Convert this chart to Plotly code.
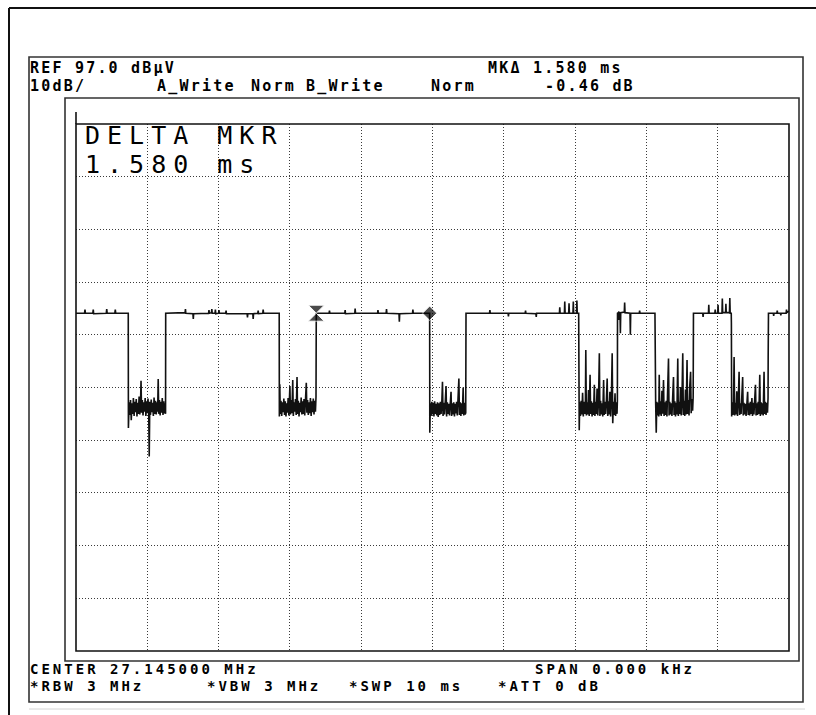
import plotly.graph_objects as go

# ---------------- data: sweep time (ms) / level (dBuV) ----------------
ref_level = 97.0
db_per_div = 10.0
sweep_ms = 10.0

high_0 = [(0.000, 61.1), (0.120, 61.1), (0.126, 61.8), (0.132, 61.1), (0.236, 61.1), (0.242, 61.8),
          (0.248, 61.0), (0.425, 61.1), (0.431, 61.9), (0.437, 61.1), (0.545, 61.1), (0.551, 61.8),
          (0.557, 61.1), (0.733, 61.1)]
low_0 = [(0.735, 39.3), (0.745, 44.2), (0.755, 41.8), (0.765, 44.6), (0.775, 40.8), (0.785, 44.0),
         (0.795, 42.0), (0.805, 45.0), (0.815, 41.6), (0.825, 44.3), (0.835, 42.3), (0.845, 44.8),
         (0.855, 41.5), (0.865, 44.1), (0.875, 42.0), (0.885, 45.3), (0.895, 41.9), (0.905, 44.0),
         (0.912, 48.3), (0.920, 42.2), (0.930, 44.6), (0.940, 41.7), (0.950, 44.2), (0.960, 42.4),
         (0.970, 45.0), (0.980, 41.6), (0.990, 44.4), (1.000, 42.1), (1.010, 44.9), (1.020, 42.0),
         (1.027, 33.9), (1.035, 44.3), (1.045, 41.8), (1.055, 44.7), (1.065, 42.3), (1.075, 44.1),
         (1.085, 41.6), (1.095, 45.1), (1.105, 42.0), (1.115, 44.5), (1.125, 41.9), (1.135, 44.2),
         (1.145, 42.4), (1.153, 48.6), (1.160, 42.0), (1.170, 44.6), (1.180, 41.7), (1.190, 44.3),
         (1.200, 42.2), (1.210, 45.0), (1.220, 41.8), (1.230, 44.4), (1.240, 42.1), (1.250, 44.0),
         (1.256, 42.0)]
high_1 = [(1.258, 61.1), (1.530, 61.2), (1.535, 61.9), (1.540, 61.1), (1.640, 61.0), (1.645, 60.0),
          (1.650, 61.0), (1.860, 61.1), (1.865, 61.7), (1.870, 61.1), (1.900, 61.2), (1.905, 61.9),
          (1.910, 61.1), (1.950, 61.1), (1.955, 61.8), (1.960, 61.0), (2.000, 61.1), (2.005, 61.7),
          (2.010, 61.1), (2.100, 61.1), (2.105, 61.6), (2.110, 61.0), (2.400, 61.0), (2.405, 60.3),
          (2.410, 61.0), (2.480, 61.0), (2.485, 60.0), (2.490, 61.0), (2.550, 61.1), (2.555, 61.6),
          (2.560, 61.0), (2.620, 61.1), (2.625, 61.8), (2.630, 61.1), (2.850, 61.1)]
low_1 = [(2.852, 41.5), (2.858, 47.6), (2.865, 42.0), (2.875, 44.5), (2.885, 41.6), (2.895, 44.2),
         (2.905, 42.3), (2.915, 44.9), (2.925, 41.8), (2.935, 44.4), (2.945, 41.5), (2.955, 44.0),
         (2.965, 42.2), (2.975, 45.0), (2.985, 41.7), (2.995, 44.3), (3.000, 47.3), (3.008, 41.9),
         (3.018, 44.6), (3.028, 42.1), (3.040, 48.4), (3.048, 41.6), (3.058, 44.2), (3.068, 42.4),
         (3.078, 44.8), (3.088, 41.8), (3.100, 49.0), (3.108, 42.0), (3.118, 44.5), (3.128, 41.5),
         (3.138, 44.1), (3.148, 42.3), (3.158, 45.1), (3.168, 41.9), (3.178, 44.4), (3.188, 42.0),
         (3.198, 44.8), (3.208, 41.7), (3.218, 44.3), (3.230, 47.9), (3.238, 42.2), (3.248, 44.6),
         (3.258, 41.8), (3.268, 44.2), (3.278, 42.1), (3.288, 45.0), (3.298, 41.6), (3.308, 44.4),
         (3.318, 42.3), (3.328, 44.9), (3.338, 41.9), (3.348, 44.5), (3.358, 42.4), (3.366, 45.2)]
high_2 = [(3.370, 61.1), (3.550, 61.1), (3.555, 61.6), (3.560, 61.1), (3.770, 61.1), (3.775, 61.7),
          (3.780, 61.0), (3.910, 61.1), (3.915, 62.0), (3.920, 61.1), (4.230, 61.1), (4.235, 61.7),
          (4.240, 61.1), (4.350, 61.1), (4.355, 61.9), (4.360, 61.1), (4.530, 61.0), (4.535, 59.5),
          (4.540, 61.0), (4.720, 61.1), (4.725, 61.8), (4.730, 61.1), (4.960, 61.1)]
low_2 = [(4.962, 38.4), (4.970, 44.0), (4.980, 41.6), (4.990, 44.3), (5.000, 41.9), (5.010, 44.1),
         (5.020, 41.5), (5.030, 44.4), (5.040, 42.0), (5.050, 43.9), (5.060, 41.7), (5.070, 44.2),
         (5.080, 41.4), (5.090, 44.0), (5.100, 41.8), (5.110, 44.3), (5.120, 42.0), (5.130, 43.8),
         (5.140, 48.1), (5.148, 41.6), (5.158, 44.1), (5.168, 41.9), (5.178, 44.0), (5.190, 47.3),
         (5.198, 41.5), (5.208, 44.2), (5.218, 42.0), (5.228, 43.9), (5.238, 41.7), (5.248, 44.3),
         (5.260, 46.2), (5.268, 41.6), (5.278, 44.0), (5.288, 41.9), (5.298, 44.2), (5.308, 41.5),
         (5.318, 43.9), (5.328, 42.1), (5.338, 44.3), (5.348, 41.7), (5.358, 44.0), (5.370, 48.7),
         (5.378, 41.8), (5.388, 44.2), (5.398, 41.6), (5.408, 44.0), (5.418, 42.0), (5.430, 47.0),
         (5.438, 41.7), (5.448, 44.1), (5.458, 41.9), (5.466, 42.2)]
high_3 = [(5.470, 61.1), (5.800, 61.1), (5.805, 61.7), (5.810, 61.1), (6.060, 61.1), (6.065, 60.5),
          (6.070, 61.1), (6.300, 61.1), (6.305, 61.6), (6.310, 61.1), (6.450, 61.0), (6.455, 60.4),
          (6.460, 61.1), (6.780, 61.1), (6.785, 62.2), (6.790, 61.1), (6.850, 61.1), (6.855, 63.3),
          (6.860, 61.1), (6.910, 61.1), (6.915, 63.0), (6.920, 61.1), (6.970, 61.1), (6.975, 63.3),
          (6.980, 61.1), (7.020, 61.1), (7.025, 63.5), (7.030, 61.1), (7.050, 61.1)]
low_3 = [(7.052, 50.0), (7.058, 38.9), (7.065, 44.2), (7.075, 41.6), (7.085, 44.5), (7.095, 41.9),
         (7.105, 46.0), (7.115, 41.5), (7.125, 44.3), (7.135, 42.0), (7.145, 44.6), (7.150, 54.1),
         (7.158, 41.7), (7.168, 44.2), (7.178, 41.9), (7.188, 46.5), (7.198, 41.6), (7.210, 49.4),
         (7.218, 42.0), (7.228, 44.4), (7.238, 41.5), (7.248, 44.1), (7.258, 41.8), (7.270, 47.5),
         (7.278, 41.6), (7.288, 44.3), (7.298, 42.0), (7.308, 46.8), (7.318, 41.7), (7.328, 44.2),
         (7.340, 53.5), (7.348, 41.6), (7.358, 44.5), (7.368, 41.9), (7.378, 44.0), (7.388, 41.5),
         (7.400, 48.4), (7.408, 41.8), (7.418, 44.3), (7.428, 42.0), (7.438, 44.1), (7.450, 48.7),
         (7.458, 41.6), (7.468, 44.4), (7.478, 41.9), (7.488, 46.2), (7.498, 41.5), (7.508, 44.2),
         (7.520, 53.5), (7.528, 40.2), (7.538, 44.3), (7.548, 41.8), (7.560, 45.9), (7.568, 41.6),
         (7.578, 44.2), (7.588, 42.0), (7.593, 44.5)]
high_4 = [(7.595, 61.2), (7.605, 61.1), (7.610, 59.8), (7.615, 61.3), (7.630, 61.2), (7.635, 57.3),
          (7.640, 61.2), (7.690, 61.3), (7.695, 63.1), (7.700, 61.2), (7.770, 61.1), (7.775, 57.0),
          (7.780, 61.1), (7.900, 61.1), (7.905, 61.6), (7.910, 61.1), (8.120, 61.1)]
low_4 = [(8.122, 49.7), (8.130, 44.0), (8.138, 38.4), (8.146, 44.3), (8.156, 41.7), (8.166, 44.1),
         (8.174, 41.5), (8.180, 49.4), (8.188, 41.9), (8.198, 44.4), (8.208, 41.6), (8.218, 46.4),
         (8.228, 42.0), (8.240, 48.4), (8.248, 41.6), (8.258, 44.2), (8.268, 41.8), (8.278, 44.5),
         (8.288, 41.5), (8.298, 46.9), (8.310, 52.5), (8.318, 41.7), (8.328, 44.3), (8.338, 41.9),
         (8.348, 44.0), (8.358, 41.6), (8.368, 46.0), (8.380, 49.0), (8.388, 41.8), (8.398, 44.4),
         (8.408, 41.5), (8.418, 44.1), (8.428, 41.9), (8.440, 52.5), (8.448, 41.6), (8.458, 44.3),
         (8.468, 42.0), (8.478, 47.1), (8.488, 41.7), (8.498, 44.2), (8.510, 53.5), (8.518, 41.8),
         (8.528, 44.5), (8.538, 41.6), (8.548, 46.6), (8.558, 41.9), (8.570, 52.2), (8.578, 42.0),
         (8.588, 44.6), (8.598, 41.7), (8.608, 47.3), (8.620, 50.0), (8.628, 42.1), (8.638, 44.8),
         (8.648, 42.6), (8.656, 45.2)]
high_5 = [(8.660, 61.1), (8.790, 61.1), (8.795, 60.4), (8.800, 61.1), (8.870, 61.1), (8.875, 62.7),
          (8.880, 61.1), (8.960, 61.1), (8.965, 61.8), (8.970, 61.1), (9.000, 61.1), (9.005, 62.7),
          (9.010, 61.1), (9.060, 61.1), (9.065, 63.9), (9.070, 61.2), (9.110, 61.2), (9.115, 62.9),
          (9.120, 61.2), (9.165, 61.2), (9.170, 64.0), (9.175, 61.1), (9.190, 61.1), (9.192, 59.2)]
low_5 = [(9.196, 41.5), (9.204, 44.2), (9.214, 41.8), (9.222, 44.0), (9.230, 52.8), (9.238, 41.7),
         (9.248, 44.1), (9.258, 41.9), (9.268, 46.3), (9.278, 41.6), (9.288, 44.2), (9.300, 50.0),
         (9.308, 41.8), (9.318, 44.0), (9.328, 42.0), (9.338, 44.3), (9.350, 49.0), (9.358, 41.7),
         (9.368, 44.1), (9.378, 41.9), (9.388, 43.9), (9.398, 41.6), (9.408, 44.2), (9.420, 46.2),
         (9.428, 41.8), (9.438, 44.0), (9.448, 41.7), (9.458, 44.3), (9.468, 42.0), (9.480, 45.0),
         (9.488, 41.6), (9.498, 44.1), (9.508, 41.9), (9.518, 44.2), (9.530, 47.5), (9.538, 41.7),
         (9.548, 44.0), (9.558, 41.8), (9.568, 44.3), (9.578, 42.0), (9.590, 49.4), (9.598, 41.6),
         (9.608, 44.2), (9.618, 41.9), (9.628, 44.0), (9.638, 41.7), (9.650, 50.0), (9.658, 42.0),
         (9.668, 44.3), (9.678, 41.8), (9.688, 44.1), (9.698, 42.2), (9.706, 45.0), (9.708, 52.8)]
high_6 = [(9.712, 61.1), (9.780, 61.1), (9.785, 60.6), (9.790, 61.1), (9.830, 61.1), (9.835, 61.6),
          (9.840, 61.1), (9.880, 61.1), (9.885, 60.7), (9.890, 61.1), (9.960, 61.1), (9.965, 61.8),
          (9.970, 61.2), (10.000, 61.5)]

trace_segments = [high_0, low_0, high_1, low_1, high_2, low_2, high_3, low_3,
                  high_4, low_4, high_5, low_5, high_6]

# markers: delta reference (hourglass) and active marker (diamond)
marker_t = [3.37, 4.96]
marker_db = [61.1, 61.1]
marker_symbols = ["hourglass", "diamond"]
marker_sizes = [16, 11]

# instrument annotation texts (text, left pixel)
header_1 = [("REF 97.0 dBμV", 29), ("MKΔ 1.580 ms", 487)]
header_2 = [("10dB/", 29), ("A_Write", 156), ("Norm", 250), ("B_Write", 305), ("Norm", 430),
            ("-0.46 dB", 544)]
footer_1 = [("CENTER 27.145000 MHz", 29), ("SPAN 0.000 kHz", 534)]
footer_2 = [("*RBW 3 MHz", 29), ("*VBW 3 MHz", 206), ("*SWP 10 ms", 348), ("*ATT 0 dB", 497)]
delta_1 = [("DELTA MKR", 84)]
delta_2 = [("1.580 ms", 84)]

# ---------------- geometry (pixels) ----------------
W_FIG, H_FIG = 816, 715
PL, PR, PT, PB = 76, 789, 124, 651   # inner graticule box
PW, PH = PR - PL, PB - PT


def fx(px):
    return (px - PL) / PW


def fy(py):
    return (PB - py) / PH


t_all, db_all = [], []
for seg in trace_segments:
    for t, v in seg:
        t_all.append(t)
        db_all.append(v)

fig = go.Figure()
fig.add_trace(go.Scatter(x=t_all, y=db_all, mode="lines",
                         line=dict(color="#111111", width=1.6), hoverinfo="skip", showlegend=False))
fig.add_trace(go.Scatter(x=marker_t, y=marker_db, mode="markers",
                         marker=dict(symbol=marker_symbols, size=marker_sizes, color="#000000"),
                         showlegend=False, hoverinfo="skip"))
# reference-level marker above the graticule
fig.add_trace(go.Scatter(x=[0.02], y=[ref_level + (PT - 110) / PH * 10 * db_per_div], mode="markers",
                         marker=dict(symbol="triangle-down", size=8, color="#000000"),
                         cliponaxis=False, showlegend=False, hoverinfo="skip"))

shapes = []


def rect(x0, y0, x1, y1, color, width):
    shapes.append(dict(type="rect", xref="paper", yref="paper", x0=fx(x0), x1=fx(x1),
                       y0=fy(y1), y1=fy(y0), line=dict(color=color, width=width), layer="above"))


def hline(x0, x1, y, color, width):
    shapes.append(dict(type="line", xref="paper", yref="paper", x0=fx(x0), x1=fx(x1),
                       y0=fy(y), y1=fy(y), line=dict(color=color, width=width), layer="above"))


def vline(x, y0, y1, color, width):
    shapes.append(dict(type="line", xref="paper", yref="paper", x0=fx(x), x1=fx(x),
                       y0=fy(y0), y1=fy(y1), line=dict(color=color, width=width), layer="above"))


vline(9, 8, 720, "#111111", 2)
hline(9, 820, 8, "#111111", 2)
rect(29, 57, 803, 702, "#333333", 1.6)
rect(65, 98, 799, 661, "#333333", 1.6)
rect(PL, PT, PR, PB, "#111111", 1.6)
vline(PL, 112, PT, "#111111", 1.6)
hline(29, 805, 709, "#d4d4d4", 1)

annotations = []
MONO = "DejaVu Sans Mono, Liberation Mono, monospace"


def add_text(items, ycenter, size, spacing, weight="normal"):
    for txt, x in items:
        annotations.append(dict(text=f'<span style="letter-spacing:{spacing}px">{txt}</span>',
                                x=fx(x), y=fy(ycenter), xref="paper", yref="paper",
                                xanchor="left", yanchor="middle", showarrow=False, borderpad=0,
                                font=dict(family=MONO, size=size, color="#000000", weight=weight)))


add_text(header_1, 67.5, 15, 2.2, "bold")
add_text(header_2, 85.5, 15, 2.2, "bold")
add_text(footer_1, 668.5, 14, 3.0, "bold")
add_text(footer_2, 685.5, 14, 3.0, "bold")
add_text(delta_1, 135.5, 25, 7.0)
add_text(delta_2, 164.8, 25, 7.0)

fig.update_layout(
    width=W_FIG, height=H_FIG,
    margin=dict(l=PL, r=W_FIG - PR, t=PT, b=H_FIG - PB, pad=0),
    paper_bgcolor="white", plot_bgcolor="white",
    shapes=shapes, annotations=annotations,
    xaxis=dict(range=[0, sweep_ms], dtick=1, tick0=0, showgrid=True, gridcolor="#3a3a3a",
               griddash="1px,2px", gridwidth=1, zeroline=False, showticklabels=False,
               ticks="", showline=False, fixedrange=True),
    yaxis=dict(range=[ref_level - 10 * db_per_div, ref_level], dtick=db_per_div,
               tick0=ref_level, showgrid=True, gridcolor="#3a3a3a", griddash="1px,2px",
               gridwidth=1, zeroline=False, showticklabels=False, ticks="", showline=False,
               fixedrange=True),
)

fig.write_html("out.html", config={"displayModeBar": False, "staticPlot": True},
               post_script="document.body.style.margin='0';document.body.style.overflow='hidden';")
